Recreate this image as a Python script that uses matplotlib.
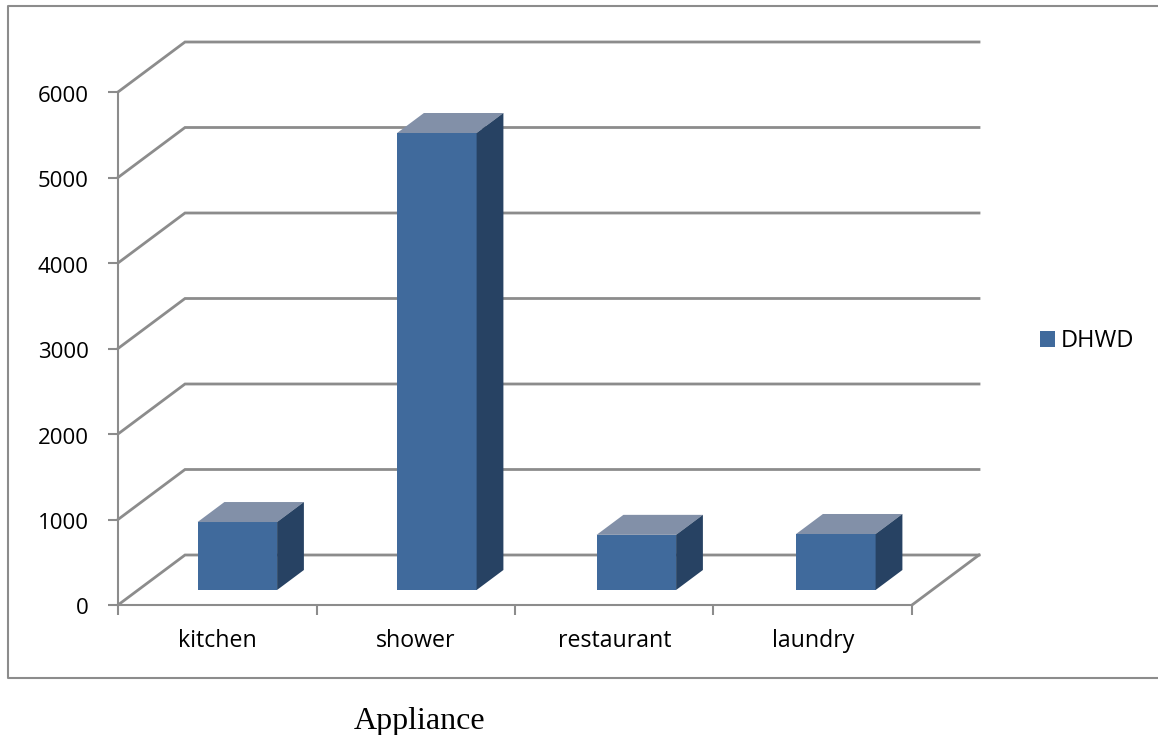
import matplotlib
matplotlib.use('Agg')
import matplotlib.pyplot as plt
from matplotlib.lines import Line2D
from matplotlib.patches import Patch, Polygon
from matplotlib.transforms import ScaledTranslation

categories = ['kitchen', 'shower', 'restaurant', 'laundry']
dhwd = [795, 5345, 645, 655]
y_ticks = [0, 1000, 2000, 3000, 4000, 5000, 6000]

W, H = 1158, 735
GRAY = '#8c8c8c'
FRONT = '#406a9c'
TOP = '#8290a8'
SIDE = '#274263'

plt.rcParams['font.family'] = ['Open Sans', 'DejaVu Sans']

fig = plt.figure(figsize=(W / 100, H / 100), dpi=100)
ax = fig.add_axes([118 / W, (H - 605) / H, 794 / W, 513 / H])
ax.set_xlim(0, len(categories))
ax.set_ylim(0, y_ticks[-1])

# depth of the fake 3d box, in data units
depth_x = 67 / 198.5
depth_y = 50 / 513 * 6000

# back wall, left wall and floor
for v in y_ticks:
    ax.plot([0, depth_x, len(categories) + depth_x], [v, v + depth_y, v + depth_y],
            color=GRAY, lw=2, clip_on=False, zorder=1, solid_joinstyle='miter')
ax.plot([len(categories), len(categories) + depth_x], [0, depth_y],
        color=GRAY, lw=2, clip_on=False, zorder=1)

# bars sit 30% into the depth and take up 40% of it
bar_width = 79.5 / 198.5
bar_step = 199.5 / 198.5
lift_x = 0.3 * depth_x
lift_y = 0.3 * depth_y
bar_dx = 0.4 * depth_x
bar_dy = 0.4 * depth_y
for i, v in enumerate(dhwd):
    x0 = i * bar_step + 0.5 + lift_x - bar_width / 2
    x1 = x0 + bar_width
    y0 = lift_y
    y1 = lift_y + v
    ax.bar(x0, v, width=bar_width, bottom=y0, align='edge', color=FRONT, zorder=3, clip_on=False)
    ax.add_patch(Polygon([(x0, y1), (x1, y1), (x1 + bar_dx, y1 + bar_dy), (x0 + bar_dx, y1 + bar_dy)],
                         closed=True, facecolor=TOP, edgecolor='none', zorder=3, clip_on=False))
    ax.add_patch(Polygon([(x1, y0), (x1 + bar_dx, y0 + bar_dy), (x1 + bar_dx, y1 + bar_dy), (x1, y1)],
                         closed=True, facecolor=SIDE, edgecolor='none', zorder=3, clip_on=False))

ax.patch.set_visible(False)
for side in ['top', 'right']:
    ax.spines[side].set_visible(False)
for side in ['left', 'bottom']:
    ax.spines[side].set_color(GRAY)
    ax.spines[side].set_linewidth(1.5)

ax.set_yticks(y_ticks)
ax.set_xticks(range(len(categories) + 1))
ax.set_xticklabels([])
ax.set_xticks([i + 0.5 for i in range(len(categories))], labels=categories, minor=True)
ax.tick_params(axis='x', which='major', length=7, width=1.5, color=GRAY)
ax.tick_params(axis='x', which='minor', length=0, pad=17, labelsize=16.7, labelcolor='black')
ax.tick_params(axis='y', length=7, width=1.5, color=GRAY, pad=14, labelsize=16)

# y labels sit a touch under their ticks
nudge = ScaledTranslation(0, -1.5 / 100, fig.dpi_scale_trans)
for label in ax.get_yticklabels():
    label.set_transform(label.get_transform() + nudge)

# outer chart frame runs off the right of the picture
fig.add_artist(Line2D([1158 / W, 8 / W, 8 / W, 1158 / W],
                      [(H - 6) / H, (H - 6) / H, (H - 678) / H, (H - 678) / H],
                      color=GRAY, lw=1.5))

fig.legend(handles=[Patch(facecolor=FRONT, label='DHWD')], loc='center left',
           bbox_to_anchor=(1040 / W, (H - 341) / H), frameon=False, fontsize=17,
           handlelength=0.64, handleheight=0.64, handletextpad=0.25, borderpad=0, borderaxespad=0)

fig.text(420 / W, (H - 722) / H, 'Appliance', ha='center', va='center',
         family='Liberation Serif', fontsize=23)

fig.savefig('out.png', dpi=100)
